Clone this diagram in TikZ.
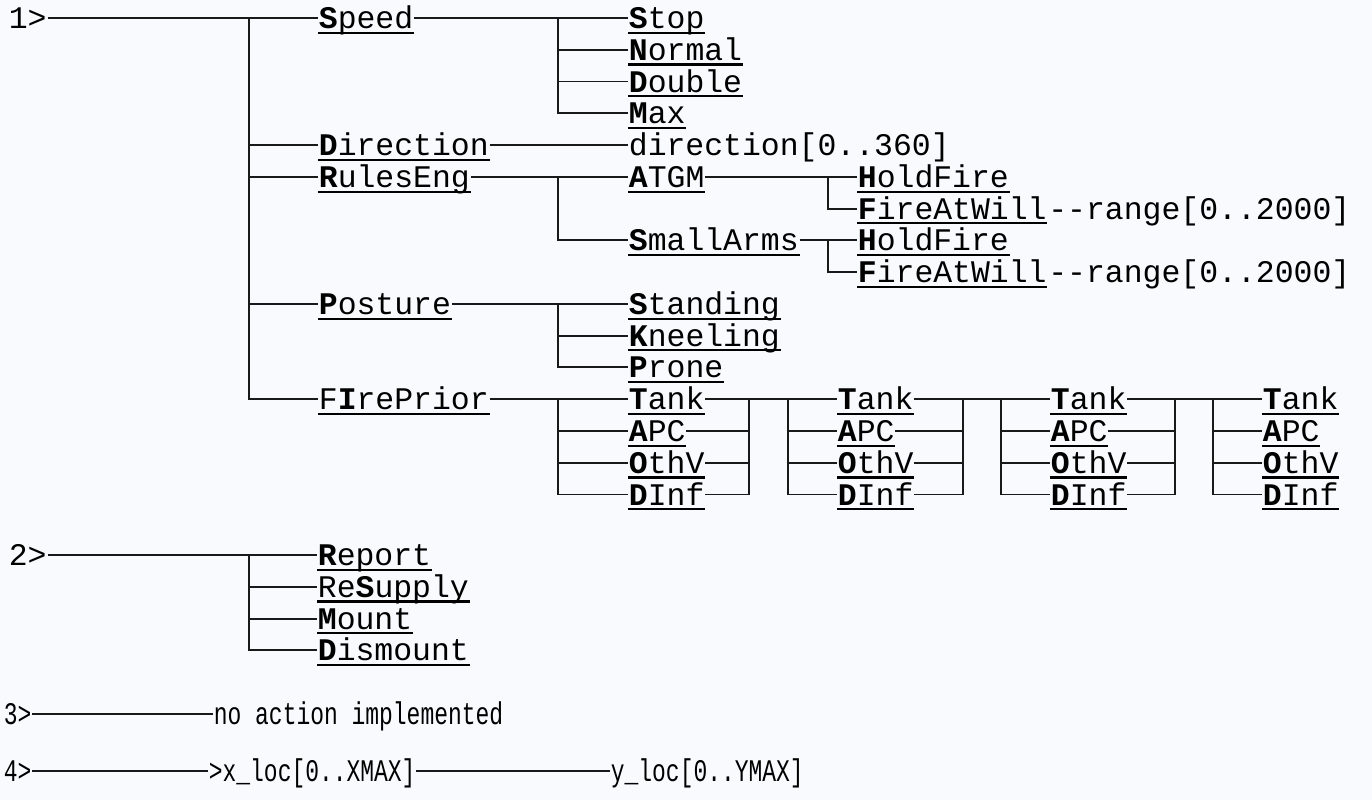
\documentclass[tikz,border=0pt]{standalone}
\usepackage{fontspec}
\newfontfamily\termfont{Liberation Mono}
\newfontfamily\termnarrow[FakeStretch=0.73]{Liberation Mono}
\usepackage{tikz}
\usetikzlibrary{positioning}
\definecolor{paper}{RGB}{248,250,253}
\tikzset{
  lbl/.style={anchor=west, inner xsep=0.5pt, inner ysep=0pt, outer sep=0pt,
              font=\termfont\fontsize{17.9}{18}\selectfont,
              text height=15.04pt, text depth=3.04pt},
  uline/.style={line width=1.2pt},
  opt/.style={lbl, append after command={
              ([yshift=0.65pt]\tikzlastnode.south west) edge[uline]
              ([yshift=0.65pt]\tikzlastnode.south east)}},
  narrow/.style={lbl, font=\termnarrow\fontsize{17.9}{18}\selectfont},
  nextrow/.style={below=0pt of #1.south west, anchor=north west},
  skiprow/.style={below=18.08pt of #1.south west, anchor=north west},
  wire/.style={line width=1.1pt, draw=black!90},
}
\begin{document}
\begin{tikzpicture}[x=0.02cm, y=-0.02cm]
    \fill[paper] (0,0) rectangle (1372,800);
    \useasboundingbox (0,0) rectangle (1372,800);

    % columns of the vertical bars
    \coordinate (ta) at (249,0);
    \coordinate (tb) at (558,0);
    \coordinate (tc) at (828,0);
    \coordinate (lvc) at (857,0);

    % 1> orders
    \node[lbl] (one) at (8,18) {1>};
    \node[opt] (speed) at (318,18) {\textbf{S}peed};
    \node[opt] (stop) at (628,18) {\textbf{S}top};
    \node[opt, nextrow=stop] (normal) {\textbf{N}ormal};
    \node[opt, nextrow=normal] (double) {\textbf{D}ouble};
    \node[opt, nextrow=double] (max) {\textbf{M}ax};
    \node[lbl, nextrow=max] (dirval) {direction[0..360]};
    \node[opt, nextrow=dirval] (atgm) {\textbf{A}TGM};
    \node[opt, skiprow=atgm] (small) {\textbf{S}mallArms};
    \node[opt, skiprow=small] (stand) {\textbf{S}tanding};
    \node[opt, nextrow=stand] (kneel) {\textbf{K}neeling};
    \node[opt, nextrow=kneel] (prone) {\textbf{P}rone};
    \node[opt, nextrow=prone] (tankA) {\textbf{T}ank};
    \node[opt, nextrow=tankA] (apcA) {\textbf{A}PC};
    \node[opt, nextrow=apcA] (othvA) {\textbf{O}thV};
    \node[opt, nextrow=othvA] (dinfA) {\textbf{D}Inf};

    \node[opt] (direction) at (speed.west |- dirval.west) {\textbf{D}irection};
    \node[opt] (rules) at (speed.west |- atgm.west) {\textbf{R}ulesEng};
    \node[opt] (posture) at (speed.west |- stand.west) {\textbf{P}osture};
    \node[opt] (fprior) at (speed.west |- tankA.west) {F\textbf{I}rePrior};

    \node[opt] (holdA) at (lvc |- atgm.west) {\textbf{H}oldFire};
    \node[opt, nextrow=holdA] (fireA) {\textbf{F}ireAtWill};
    \node[lbl, right=0pt of fireA] (rangeA) {-{}-range[0..2000]};
    \node[opt] (holdB) at (lvc |- small.west) {\textbf{H}oldFire};
    \node[opt, nextrow=holdB] (fireB) {\textbf{F}ireAtWill};
    \node[lbl, right=0pt of fireB] (rangeB) {-{}-range[0..2000]};

    \foreach \c/\x in {B/837, C/1050, D/1262} {
        \coordinate (col\c) at (\x,0);
        \node[opt] (tank\c) at (col\c |- tankA.west) {\textbf{T}ank};
        \node[opt, nextrow=tank\c] (apc\c) {\textbf{A}PC};
        \node[opt, nextrow=apc\c] (othv\c) {\textbf{O}thV};
        \node[opt, nextrow=othv\c] (dinf\c) {\textbf{D}Inf};
    }

    \draw[wire] (one.east) -- (speed.west);
    \draw[wire] (ta |- speed.west) |- (fprior.west);
    \foreach \n in {direction, rules, posture}
        \draw[wire] (ta |- \n.west) -- (\n.west);

    \draw[wire] (speed.east) -- (stop.west);
    \draw[wire] (tb |- stop.west) |- (max.west);
    \foreach \n in {normal, double}
        \draw[wire] (tb |- \n.west) -- (\n.west);
    \draw[wire] (direction.east) -- (dirval.west);

    \draw[wire] (rules.east) -- (atgm.west);
    \draw[wire] (tb |- atgm.west) |- (small.west);
    \draw[wire] (atgm.east) -- (holdA.west);
    \draw[wire] (tc |- holdA.west) |- (fireA.west);
    \draw[wire] (small.east) -- (holdB.west);
    \draw[wire] (tc |- holdB.west) |- (fireB.west);

    \draw[wire] (posture.east) -- (stand.west);
    \draw[wire] (tb |- stand.west) |- (prone.west);
    \draw[wire] (tb |- kneel.west) -- (kneel.west);

    \draw[wire] (fprior.east) -- (tankA.west);
    \draw[wire] (tb |- tankA.west) |- (dinfA.west);
    \foreach \n in {apcA, othvA}
        \draw[wire] (tb |- \n.west) -- (\n.west);

    % fire priority chain
    \foreach \a/\b/\r/\l in {A/B/749/788, B/C/963/1001, C/D/1175/1213} {
        \coordinate (r\a) at (\r,0);
        \coordinate (l\b) at (\l,0);
        \draw[wire] (tank\a.east) -- (tank\b.west);
        \draw[wire] (dinf\a.east) -| (r\a |- tank\a.east);
        \draw[wire] (apc\a.east) -- (r\a |- apc\a.east);
        \draw[wire] (othv\a.east) -- (r\a |- othv\a.east);
        \draw[wire] (l\b |- tank\b.west) |- (dinf\b.west);
        \draw[wire] (l\b |- apc\b.west) -- (apc\b.west);
        \draw[wire] (l\b |- othv\b.west) -- (othv\b.west);
    }

    % 2> orders
    \node[lbl] (two) at (8,555) {2>};
    \node[opt] (report) at (317,555) {\textbf{R}eport};
    \node[opt, nextrow=report] (resup) {Re\textbf{S}upply};
    \node[opt, nextrow=resup] (mount) {\textbf{M}ount};
    \node[opt, nextrow=mount] (dismount) {\textbf{D}ismount};
    \draw[wire] (two.east) -- (report.west);
    \draw[wire] (ta |- report.west) |- (dismount.west);
    \foreach \n in {resup, mount}
        \draw[wire] (ta |- \n.west) -- (\n.west);

    % 3> and 4>
    \node[narrow] (three) at (3,714) {3>};
    \node[narrow] (noact) at (213,714) {no action implemented};
    \draw[wire] (three.east) -- (noact.west);

    \node[narrow] (four) at (3,771) {4>};
    \node[narrow] (xloc) at (208,771) {>x\_loc[0..XMAX]};
    \node[narrow] (yloc) at (610,771) {y\_loc[0..YMAX]};
    \draw[wire] (four.east) -- (xloc.west);
    \draw[wire] (xloc.east) -- (yloc.west);
\end{tikzpicture}
\end{document}
